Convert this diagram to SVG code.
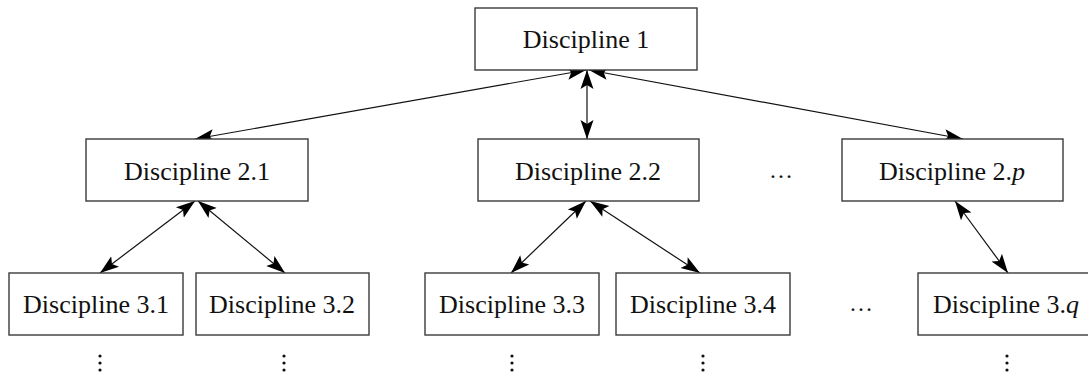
<svg xmlns="http://www.w3.org/2000/svg" width="1088" height="375" viewBox="0 0 1088 375">
<style>
.box{fill:#fff;stroke:#3a3a3a;stroke-width:1.4}
.lbl{font-family:"Liberation Serif","Times New Roman",serif;font-size:26px;fill:#111;text-anchor:middle}
.dots{font-family:"Liberation Serif",serif;font-size:24px;fill:#111;text-anchor:middle}
.vd{fill:#111}
.conn{stroke:#111;stroke-width:1.2;fill:none;marker-start:url(#ah);marker-end:url(#ah)}
</style>
<defs>
<marker id="ah" markerUnits="userSpaceOnUse" markerWidth="20" markerHeight="16" viewBox="0 0 20 16" refX="19" refY="8" orient="auto-start-reverse">
<path d="M0,1.5 L19,8 L0,14.5 L4,8 Z" fill="#000"/>
</marker>
</defs>
<g id="connectors">
<line class="conn" x1="586" y1="70" x2="195" y2="139"/>
<line class="conn" x1="587" y1="70" x2="587" y2="139"/>
<line class="conn" x1="589" y1="70" x2="963" y2="139"/>
<line class="conn" x1="195" y1="201" x2="100" y2="273"/>
<line class="conn" x1="198" y1="201" x2="285" y2="273"/>
<line class="conn" x1="586" y1="201" x2="511" y2="273"/>
<line class="conn" x1="590" y1="201" x2="700" y2="273"/>
<line class="conn" x1="955" y1="201" x2="1008" y2="273"/>
</g>
<g id="d1"><rect class="box" x="475" y="8" width="222" height="62"/><text class="lbl" x="586" y="48">Discipline 1</text></g>
<g id="d21"><rect class="box" x="86" y="139" width="222" height="62"/><text class="lbl" x="197" y="180">Discipline 2.1</text></g>
<g id="d22"><rect class="box" x="478" y="139" width="221" height="62"/><text class="lbl" x="588" y="180">Discipline 2.2</text></g>
<g id="d2p"><rect class="box" x="842" y="139" width="221" height="62"/><text class="lbl" x="952" y="180">Discipline 2.<tspan font-style="italic">p</tspan></text></g>
<g id="d31"><rect class="box" x="9" y="273" width="174" height="62"/><text class="lbl" x="96" y="313">Discipline 3.1</text></g>
<g id="d32"><rect class="box" x="196" y="273" width="173" height="62"/><text class="lbl" x="282" y="313">Discipline 3.2</text></g>
<g id="d33"><rect class="box" x="425" y="273" width="174" height="62"/><text class="lbl" x="512" y="313">Discipline 3.3</text></g>
<g id="d34"><rect class="box" x="616" y="273" width="174" height="62"/><text class="lbl" x="703" y="313">Discipline 3.4</text></g>
<g id="d3q"><rect class="box" x="918" y="273" width="176" height="62"/><text class="lbl" x="1006" y="313">Discipline 3.<tspan font-style="italic">q</tspan></text></g>
<g id="hdots">
<text class="dots" x="781" y="178">…</text>
<text class="dots" x="861" y="311">…</text>
</g>
<g id="vdots" class="vd">
<circle cx="100" cy="356" r="1.6"/><circle cx="100" cy="363" r="1.6"/><circle cx="100" cy="370" r="1.6"/>
<circle cx="284" cy="356" r="1.6"/><circle cx="284" cy="363" r="1.6"/><circle cx="284" cy="370" r="1.6"/>
<circle cx="512" cy="356" r="1.6"/><circle cx="512" cy="363" r="1.6"/><circle cx="512" cy="370" r="1.6"/>
<circle cx="703" cy="356" r="1.6"/><circle cx="703" cy="363" r="1.6"/><circle cx="703" cy="370" r="1.6"/>
<circle cx="1007" cy="356" r="1.6"/><circle cx="1007" cy="363" r="1.6"/><circle cx="1007" cy="370" r="1.6"/>
</g>
</svg>
